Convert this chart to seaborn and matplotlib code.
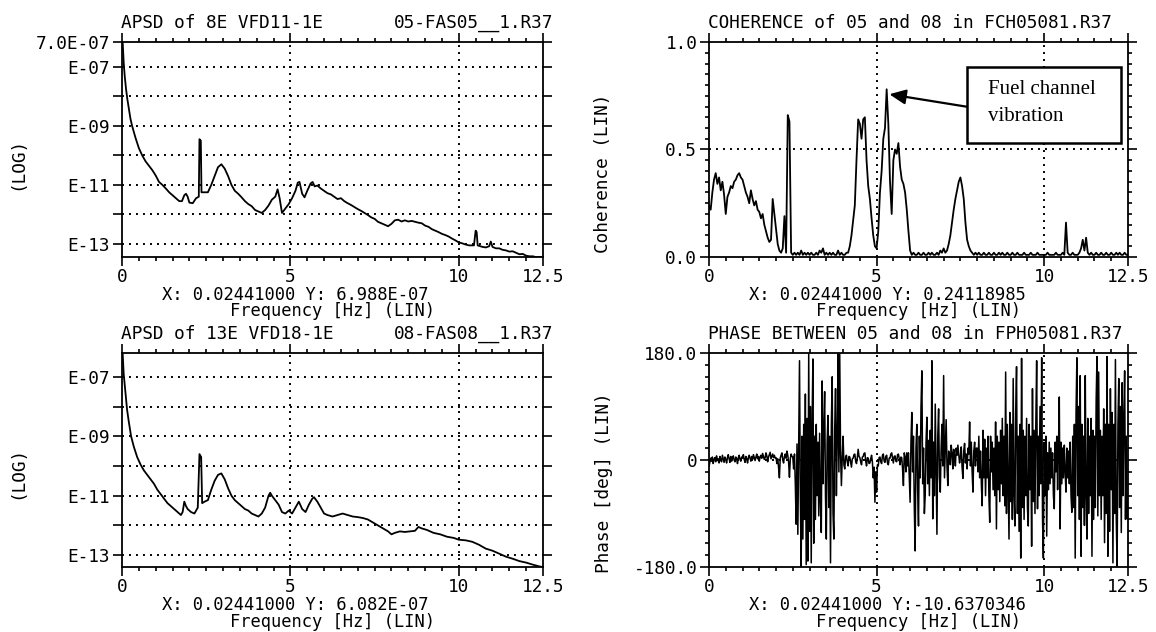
import numpy as np
import pandas as pd
import matplotlib
matplotlib.use("Agg")
import matplotlib.pyplot as plt
from matplotlib.patches import Rectangle
from matplotlib.patches import ArrowStyle
import seaborn as sns

# ---------------------------------------------------------------- data
# Auto power spectral density of detector 8E (VFD11-1E), log10 of PSD
apsd_8e_freq = [0.02, 0.05, 0.08, 0.12, 0.16, 0.2, 0.25, 0.3, 0.4, 0.5,
                0.6, 0.7, 0.8, 0.9, 1.0, 1.1, 1.2, 1.3, 1.4, 1.5,
                1.6, 1.7, 1.78, 1.85, 1.9, 1.95, 2.0, 2.1, 2.2, 2.28,
                2.3, 2.34, 2.36, 2.45, 2.55, 2.65, 2.75, 2.85, 2.95, 3.05,
                3.15, 3.25, 3.35, 3.45, 3.55, 3.65, 3.75, 3.85, 3.95, 4.05,
                4.15, 4.25, 4.35, 4.45, 4.55, 4.62, 4.68, 4.75, 4.85, 4.95,
                5.05, 5.15, 5.22, 5.27, 5.35, 5.42, 5.5, 5.6, 5.66, 5.72,
                5.8, 5.9, 6.0, 6.1, 6.2, 6.3, 6.4, 6.5, 6.6, 6.7,
                6.8, 6.9, 7.0, 7.1, 7.2, 7.3, 7.4, 7.5, 7.6, 7.7,
                7.8, 7.9, 8.0, 8.1, 8.2, 8.3, 8.4, 8.5, 8.6, 8.7,
                8.8, 8.9, 9.0, 9.1, 9.2, 9.3, 9.4, 9.5, 9.6, 9.7,
                9.8, 9.9, 10.0, 10.1, 10.2, 10.3, 10.45, 10.5, 10.53, 10.56,
                10.7, 10.8, 10.9, 10.95, 11.0, 11.1, 11.2, 11.3, 11.4, 11.5,
                11.6, 11.7, 11.8, 11.9, 12.0, 12.1, 12.2, 12.3, 12.4, 12.5]
apsd_8e_log10 = [-6.16, -6.85, -7.3, -7.75, -8.1, -8.4, -8.75, -9.0, -9.4, -9.75,
                 -10.0, -10.2, -10.35, -10.5, -10.68, -10.9, -11.0, -11.12, -11.25, -11.35,
                 -11.45, -11.55, -11.55, -11.35, -11.3, -11.4, -11.6, -11.62, -11.45, -11.4,
                 -9.45, -9.5, -11.25, -11.25, -11.25, -11.0, -10.7, -10.4, -10.3, -10.45,
                 -10.7, -11.0, -11.2, -11.3, -11.42, -11.55, -11.65, -11.72, -11.85, -11.9,
                 -11.95, -11.85, -11.7, -11.5, -11.4, -11.15, -11.45, -11.95, -11.8, -11.65,
                 -11.45, -11.2, -10.92, -10.9, -11.3, -11.42, -11.2, -10.95, -10.9, -11.05,
                 -11.02, -11.12, -11.2, -11.28, -11.32, -11.4, -11.48, -11.45, -11.55, -11.62,
                 -11.68, -11.75, -11.82, -11.88, -11.95, -12.02, -12.1, -12.15, -12.25, -12.3,
                 -12.35, -12.4, -12.32, -12.2, -12.18, -12.24, -12.2, -12.24, -12.22, -12.25,
                 -12.28, -12.3, -12.38, -12.42, -12.5, -12.55, -12.6, -12.66, -12.7, -12.75,
                 -12.82, -12.88, -12.95, -12.98, -13.02, -13.05, -13.05, -12.55, -12.6, -13.05,
                 -13.1, -13.12, -13.08, -12.92, -13.1, -13.15, -13.15, -13.2, -13.22, -13.26,
                 -13.25, -13.3, -13.35, -13.34, -13.4, -13.42, -13.42, -13.45, -13.44, -13.45]

# Auto power spectral density of detector 13E (VFD18-1E), log10 of PSD
apsd_13e_freq = [0.02, 0.05, 0.1, 0.15, 0.2, 0.27, 0.35, 0.45, 0.55, 0.65,
                 0.75, 0.85, 0.95, 1.05, 1.15, 1.25, 1.35, 1.45, 1.55, 1.65,
                 1.75, 1.8, 1.85, 1.9, 1.95, 2.05, 2.15, 2.25, 2.3, 2.35,
                 2.38, 2.45, 2.55, 2.65, 2.75, 2.85, 2.95, 3.05, 3.15, 3.25,
                 3.35, 3.45, 3.55, 3.65, 3.75, 3.85, 3.95, 4.05, 4.15, 4.25,
                 4.35, 4.4, 4.45, 4.55, 4.65, 4.75, 4.85, 4.95, 5.05, 5.15,
                 5.25, 5.35, 5.45, 5.55, 5.65, 5.7, 5.8, 5.9, 6.0, 6.1,
                 6.25, 6.4, 6.55, 6.7, 6.85, 7.0, 7.15, 7.3, 7.45, 7.6,
                 7.75, 7.9, 8.0, 8.1, 8.25, 8.4, 8.55, 8.7, 8.8, 8.9,
                 9.05, 9.25, 9.45, 9.65, 9.85, 10.0, 10.2, 10.4, 10.6, 10.8,
                 11.0, 11.2, 11.4, 11.6, 11.8, 12.0, 12.2, 12.4, 12.5]
apsd_13e_log10 = [-6.22, -6.9, -7.5, -8.1, -8.5, -9.0, -9.35, -9.7, -9.95, -10.15,
                  -10.3, -10.45, -10.6, -10.8, -10.95, -11.1, -11.25, -11.35, -11.45, -11.55,
                  -11.65, -11.55, -11.2, -11.35, -11.45, -11.55, -11.6, -11.4, -9.6, -9.7,
                  -11.25, -11.2, -11.15, -10.8, -10.5, -10.3, -10.25, -10.45, -10.75, -11.0,
                  -11.15, -11.25, -11.35, -11.45, -11.5, -11.6, -11.65, -11.7, -11.6, -11.4,
                  -11.0, -10.9, -11.0, -11.15, -11.3, -11.55, -11.6, -11.5, -11.6, -11.4,
                  -11.2, -11.45, -11.55, -11.3, -11.1, -11.05, -11.2, -11.4, -11.6, -11.65,
                  -11.7, -11.65, -11.6, -11.65, -11.7, -11.72, -11.75, -11.8, -11.9, -12.0,
                  -12.1, -12.2, -12.3, -12.25, -12.2, -12.22, -12.2, -12.18, -12.05, -12.1,
                  -12.15, -12.25, -12.3, -12.38, -12.42, -12.48, -12.5, -12.55, -12.65, -12.78,
                  -12.85, -12.95, -13.05, -13.12, -13.2, -13.25, -13.32, -13.38, -13.4]

# Coherence between detectors 05 and 08, one value per 0.05 Hz bin
coherence_bin_width = 0.05
coherence = [0.24, 0.22, 0.30, 0.36, 0.39, 0.34, 0.37, 0.31, 0.35, 0.29,
             0.20, 0.28, 0.30, 0.33, 0.32, 0.35, 0.36, 0.38, 0.39, 0.37,
             0.36, 0.33, 0.30, 0.28, 0.25, 0.31, 0.27, 0.24, 0.26, 0.22,
             0.21, 0.18, 0.20, 0.15, 0.12, 0.09, 0.07, 0.08, 0.27, 0.20,
             0.13, 0.06, 0.03, 0.02, 0.04, 0.19, 0.02, 0.66, 0.63, 0.02,
             0.01, 0.02, 0.01, 0.02, 0.01, 0.03, 0.01, 0.02, 0.01, 0.02,
             0.01, 0.02, 0.01, 0.01, 0.02, 0.01, 0.03, 0.02, 0.04, 0.01,
             0.02, 0.01, 0.02, 0.01, 0.02, 0.01, 0.01, 0.03, 0.01, 0.02,
             0.01, 0.01, 0.02, 0.02, 0.05, 0.10, 0.17, 0.24, 0.45, 0.64,
             0.62, 0.55, 0.64, 0.65, 0.45, 0.33, 0.27, 0.18, 0.10, 0.05,
             0.04, 0.12, 0.30, 0.40, 0.55, 0.60, 0.78, 0.62, 0.35, 0.20,
             0.45, 0.50, 0.48, 0.53, 0.42, 0.36, 0.34, 0.30, 0.22, 0.12,
             0.03, 0.01, 0.02, 0.01, 0.01, 0.02, 0.01, 0.01, 0.02, 0.01,
             0.01, 0.02, 0.01, 0.02, 0.01, 0.01, 0.02, 0.01, 0.03, 0.02,
             0.04, 0.02, 0.03, 0.06, 0.10, 0.16, 0.22, 0.27, 0.31, 0.35,
             0.37, 0.33, 0.27, 0.16, 0.08, 0.05, 0.03, 0.02, 0.01, 0.02,
             0.01, 0.02, 0.01, 0.01, 0.02, 0.01, 0.01, 0.02, 0.01, 0.01,
             0.02, 0.01, 0.01, 0.02, 0.01, 0.02, 0.01, 0.01, 0.02, 0.01,
             0.01, 0.02, 0.01, 0.01, 0.02, 0.01, 0.01, 0.01, 0.02, 0.01,
             0.01, 0.01, 0.02, 0.01, 0.01, 0.01, 0.02, 0.01, 0.01, 0.01,
             0.01, 0.01, 0.02, 0.01, 0.01, 0.01, 0.01, 0.02, 0.01, 0.01,
             0.01, 0.02, 0.01, 0.16, 0.02, 0.01, 0.01, 0.02, 0.01, 0.01,
             0.01, 0.02, 0.04, 0.08, 0.03, 0.09, 0.02, 0.01, 0.02, 0.01,
             0.01, 0.02, 0.01, 0.01, 0.02, 0.01, 0.01, 0.02, 0.01, 0.01,
             0.02, 0.01, 0.01, 0.02, 0.01, 0.02, 0.01, 0.01, 0.02, 0.01,
             0.01]

# Cross-spectrum phase between detectors 05 and 08 [deg], one value per 0.025 Hz bin
phase_bin_width = 0.025
phase_deg = [
    -11, -4, 3, -2, 5, -6, 1, 4, -3, 7, -1, 2, -5, 6, 0, -3, 8, 2, -4, 5,
    1, -5, 4, 9, 2, -4, 6, -2, 3, 7, 0, -3, 5, 2, -6, 4, 8, 1, -2, 5,
    3, 9, 1, -4, 6, 2, -5, 4, 8, 3, -2, 6, 1, 9, 4, -1, 5, 10, 2, 6,
    -2, 5, 8, 3, 11, 6, 1, 4, 12, 7, -3, 5, 9, 13, 2, 6, 10, 4, 8, 3,
    4, -6, 2, -12, -30, 3, 8, 12, 0, -5, 6, 10, 3, 15, 8, -4, -29, 2, 10, 6,
    5, -15, 10, -40, -108, 27, -125, 20, 167, -60, -179, 40, -133, 60, -100, 111, -176, 70, -170, 180,
    -120, 90, -173, 60, 170, -140, 40, -100, 60, -60, 30, -94, 45, -70, -122, 133, -40, 50, 115, -60,
    -133, 30, 75, -80, 40, -173, 60, 140, -90, -133, 50, 120, -60, 30, 180, -20, 178, 10, -43, 5,
    40, -8, -15, 5, 8, -3, -10, 6, 5, -4, -12, 2, 3, 9, 10, -2, -6, 4, 18, 6,
    4, -3, -8, 5, 6, 11, 12, -2, -10, 4, 3, -6, -5, 2, 8, -4, -30, -12, -71, -20,
    -54, -8, -10, 4, 5, -3, -6, 8, 10, -2, -4, 6, 8, -5, -8, 3, 3, 10, 12, 4,
    -5, 6, 7, -2, -3, 9, 10, 2, -8, 5, 4, -15, -43, 12, 5, -20, 12, -10, 12, -30,
    -71, 30, 80, -20, 40, -80, -153, 20, 60, -50, -111, 40, -30, 90, 150, -40, 20, -90, -60, 30,
    72, -40, 33, -60, 50, -30, 167, -99, 30, -60, 94, -20, -125, 40, 86, -30, -54, 20, 60, -10,
    142, -30, 20, 68, -10, -43, 15, 5, -8, 25, 12, -15, 18, 6, -10, 20, 8, 25, 10, -5,
    5, 22, -12, -31, 15, 28, -5, 10, -15, 20, 10, 64, -10, 30, -20, -54, 15, 30, -10, 20,
    20, -20, 40, -30, 15, -40, -77, 50, -30, 35, -60, 20, -30, 40, -60, -105, 40, -20, 30, -50,
    20, -60, 64, -116, 40, -50, 30, -70, 50, -40, 70, -60, 40, -77, 148, -90, 60, -40, -133, 80,
    -70, 60, -100, 137, -60, -111, 80, 157, -90, 40, -120, 60, -165, 171, -80, 50, -100, 40, -60, 70,
    -80, -111, 60, -50, 40, -145, 120, -70, 50, -90, 60, 167, -82, 40, -60, 90, -40, 172, -100, -165,
    30, -60, 40, -128, 12, -50, 30, -40, 20, -30, 12, -60, -82, 30, -20, 40, -50, 20, 106, -116,
    30, -40, 20, -30, 25, -20, -54, 20, -30, 15, -40, 30, -60, -88, 40, -80, 60, -165, 80, 172,
    -60, 90, -100, 142, -162, 60, -80, 40, -110, 142, -60, -133, 70, -90, 40, -60, 70, -162, 50, -100,
    40, -80, 100, 174, -94, 148, -60, 50, -100, 40, -60, 86, -139, 60, -90, 174, -162, 60, -120, 120,
    -50, 80, -173, 60, -90, 169, -100, -179, 60, 137, -80, 90, -122, 130, -60, 70, 150, -100, 40, -99,
    -60]

freq_ticks = [0, 5, 10, 12.5]
freq_tick_labels = ["0", "5", "10", "12.5"]

# ---------------------------------------------------------------- style
sns.set_theme(style="ticks")
plt.rcParams.update({
    "font.family": ["DejaVu Sans Mono"],
    "text.color": "black",
    "axes.edgecolor": "black",
    "axes.labelcolor": "black",
    "xtick.color": "black",
    "ytick.color": "black",
    "axes.linewidth": 1.3,
})

W, H = 1156, 632
fig = plt.figure(figsize=(W / 100, H / 100), dpi=100)
FS = 12.8
DOT = (0, (1, 2.6))


def axes_px(left, top, right, bottom):
    return fig.add_axes([left / W, 1 - bottom / H, (right - left) / W, (bottom - top) / H])


def label_px(x, y, s, **kw):
    kw.setdefault("fontsize", FS)
    fig.text(x / W, 1 - y / H, s, **kw)


def frame(ax):
    ax.set_xlim(0, 12.5)
    ax.set_xticks(freq_ticks, labels=freq_tick_labels)
    ax.xaxis.set_minor_locator(matplotlib.ticker.MultipleLocator(0.5))
    ax.tick_params(which="both", direction="out", top=True, right=True,
                   bottom=True, left=True, labeltop=False, labelright=False,
                   width=1.2, labelsize=FS)
    ax.tick_params(axis="x", which="major", length=6.5, pad=1.5)
    ax.tick_params(axis="x", which="minor", length=3)
    ax.tick_params(axis="y", which="major", length=6.5, pad=2)
    ax.tick_params(axis="y", which="minor", length=3)
    for sp in ax.spines.values():
        sp.set_visible(True)
        sp.set_linewidth(1.3)
    for xv in (5, 10):
        ax.axvline(xv, color="black", lw=1.4, ls=DOT, zorder=1)


def trace(ax, x, y, lw=1.3):
    df = pd.DataFrame({"f": x, "v": y})
    sns.lineplot(data=df, x="f", y="v", ax=ax, color="black", linewidth=lw,
                 estimator=None, sort=False, legend=False, zorder=3)
    ax.set_xlabel("")
    ax.set_ylabel("")


def apsd_panel(top, bottom, freq, log10, ylim, top_label):
    ax = axes_px(122, top, 543, bottom)
    frame(ax)
    ax.set_yscale("log")
    trace(ax, freq, 10.0 ** np.array(log10))
    ax.set_ylim(*ylim)
    decades = [10.0 ** -k for k in range(7, 14)]
    names = ["E-07", "", "E-09", "", "E-11", "", "E-13"]
    if top_label:
        decades = [ylim[1]] + decades
        names = [top_label] + names
    ax.yaxis.set_major_locator(matplotlib.ticker.FixedLocator(decades))
    ax.yaxis.set_major_formatter(matplotlib.ticker.FixedFormatter(names))
    ax.yaxis.set_minor_locator(matplotlib.ticker.NullLocator())
    for d in [10.0 ** -k for k in range(7, 14)]:
        ax.axhline(d, color="black", lw=1.4, ls=DOT, zorder=1)
    return ax


coherence_freq = np.arange(len(coherence)) * coherence_bin_width
phase_freq = np.arange(len(phase_deg)) * phase_bin_width

# ---------------------------------------------------------------- APSD 8E
apsd_panel(42, 257, apsd_8e_freq, apsd_8e_log10, (3.6e-14, 7.0e-7), "7.0E-07")
label_px(121, 23, "APSD of 8E VFD11-1E", ha="left", va="center")
label_px(553, 23, "05-FAS05__1.R37", ha="right", va="center")
label_px(162, 295, "X: 0.02441000 Y: 6.988E-07", ha="left", va="center", fontsize=12.3)
label_px(332, 311, "Frequency [Hz] (LIN)", ha="center", va="center", fontsize=12.3)
label_px(17, 163, "(LOG)", rotation=90, ha="center", va="center")

# ---------------------------------------------------------------- APSD 13E
apsd_panel(353, 567, apsd_13e_freq, apsd_13e_log10, (4.0e-14, 6.3e-7), None)
label_px(121, 334, "APSD of 13E VFD18-1E", ha="left", va="center")
label_px(553, 334, "08-FAS08__1.R37", ha="right", va="center")
label_px(162, 605, "X: 0.02441000 Y: 6.082E-07", ha="left", va="center", fontsize=12.3)
label_px(332, 622, "Frequency [Hz] (LIN)", ha="center", va="center", fontsize=12.3)
label_px(17, 472, "(LOG)", rotation=90, ha="center", va="center")

# ---------------------------------------------------------------- coherence
ax = axes_px(709, 42, 1128, 257)
frame(ax)
trace(ax, coherence_freq, coherence)
ax.set_ylim(0, 1.0)
ax.set_yticks([0, 0.5, 1.0], labels=["0.0", "0.5", "1.0"])
ax.yaxis.set_minor_locator(matplotlib.ticker.MultipleLocator(0.05))
ax.axhline(0.5, color="black", lw=1.4, ls=DOT, zorder=1)
ax.add_patch(Rectangle((7.69, 0.53), 12.28 - 7.69, 0.884 - 0.53, facecolor="white",
                       edgecolor="black", lw=1.8, zorder=5))
ax.text(8.32, 0.777, "Fuel channel", family=["Liberation Serif"], fontsize=15,
        ha="left", va="center", zorder=6)
ax.text(8.32, 0.655, "vibration", family=["Liberation Serif"], fontsize=15,
        ha="left", va="center", zorder=6)
ax.annotate("", xy=(5.38, 0.757), xytext=(7.69, 0.699),
            arrowprops=dict(arrowstyle=ArrowStyle("-|>", head_length=0.55, head_width=0.25),
                            mutation_scale=18, color="black", lw=1.6,
                            shrinkA=0, shrinkB=0), zorder=6)
label_px(708, 23, "COHERENCE of 05 and 08 in FCH05081.R37", ha="left", va="center")
label_px(749, 295, "X: 0.02441000 Y: 0.24118985", ha="left", va="center", fontsize=12.3)
label_px(918, 311, "Frequency [Hz] (LIN)", ha="center", va="center", fontsize=12.3)
label_px(603, 173, "Coherence (LIN)", rotation=90, ha="center", va="center")

# ---------------------------------------------------------------- phase
ax = axes_px(709, 353, 1128, 567)
frame(ax)
trace(ax, phase_freq, phase_deg, lw=1.1)
ax.set_ylim(-180, 180)
ax.set_yticks([-180, 0, 180], labels=["-180.0", "0", "180.0"])
ax.yaxis.set_minor_locator(matplotlib.ticker.MultipleLocator(20))
ax.axhline(0, color="black", lw=1.4, ls=DOT, zorder=1)
label_px(708, 334, "PHASE BETWEEN 05 and 08 in FPH05081.R37", ha="left", va="center")
label_px(749, 605, "X: 0.02441000 Y:-10.6370346", ha="left", va="center", fontsize=12.3)
label_px(918, 622, "Frequency [Hz] (LIN)", ha="center", va="center", fontsize=12.3)
label_px(604, 483, "Phase [deg] (LIN)", rotation=90, ha="center", va="center")

fig.savefig("out.png", dpi=100, facecolor="white")
